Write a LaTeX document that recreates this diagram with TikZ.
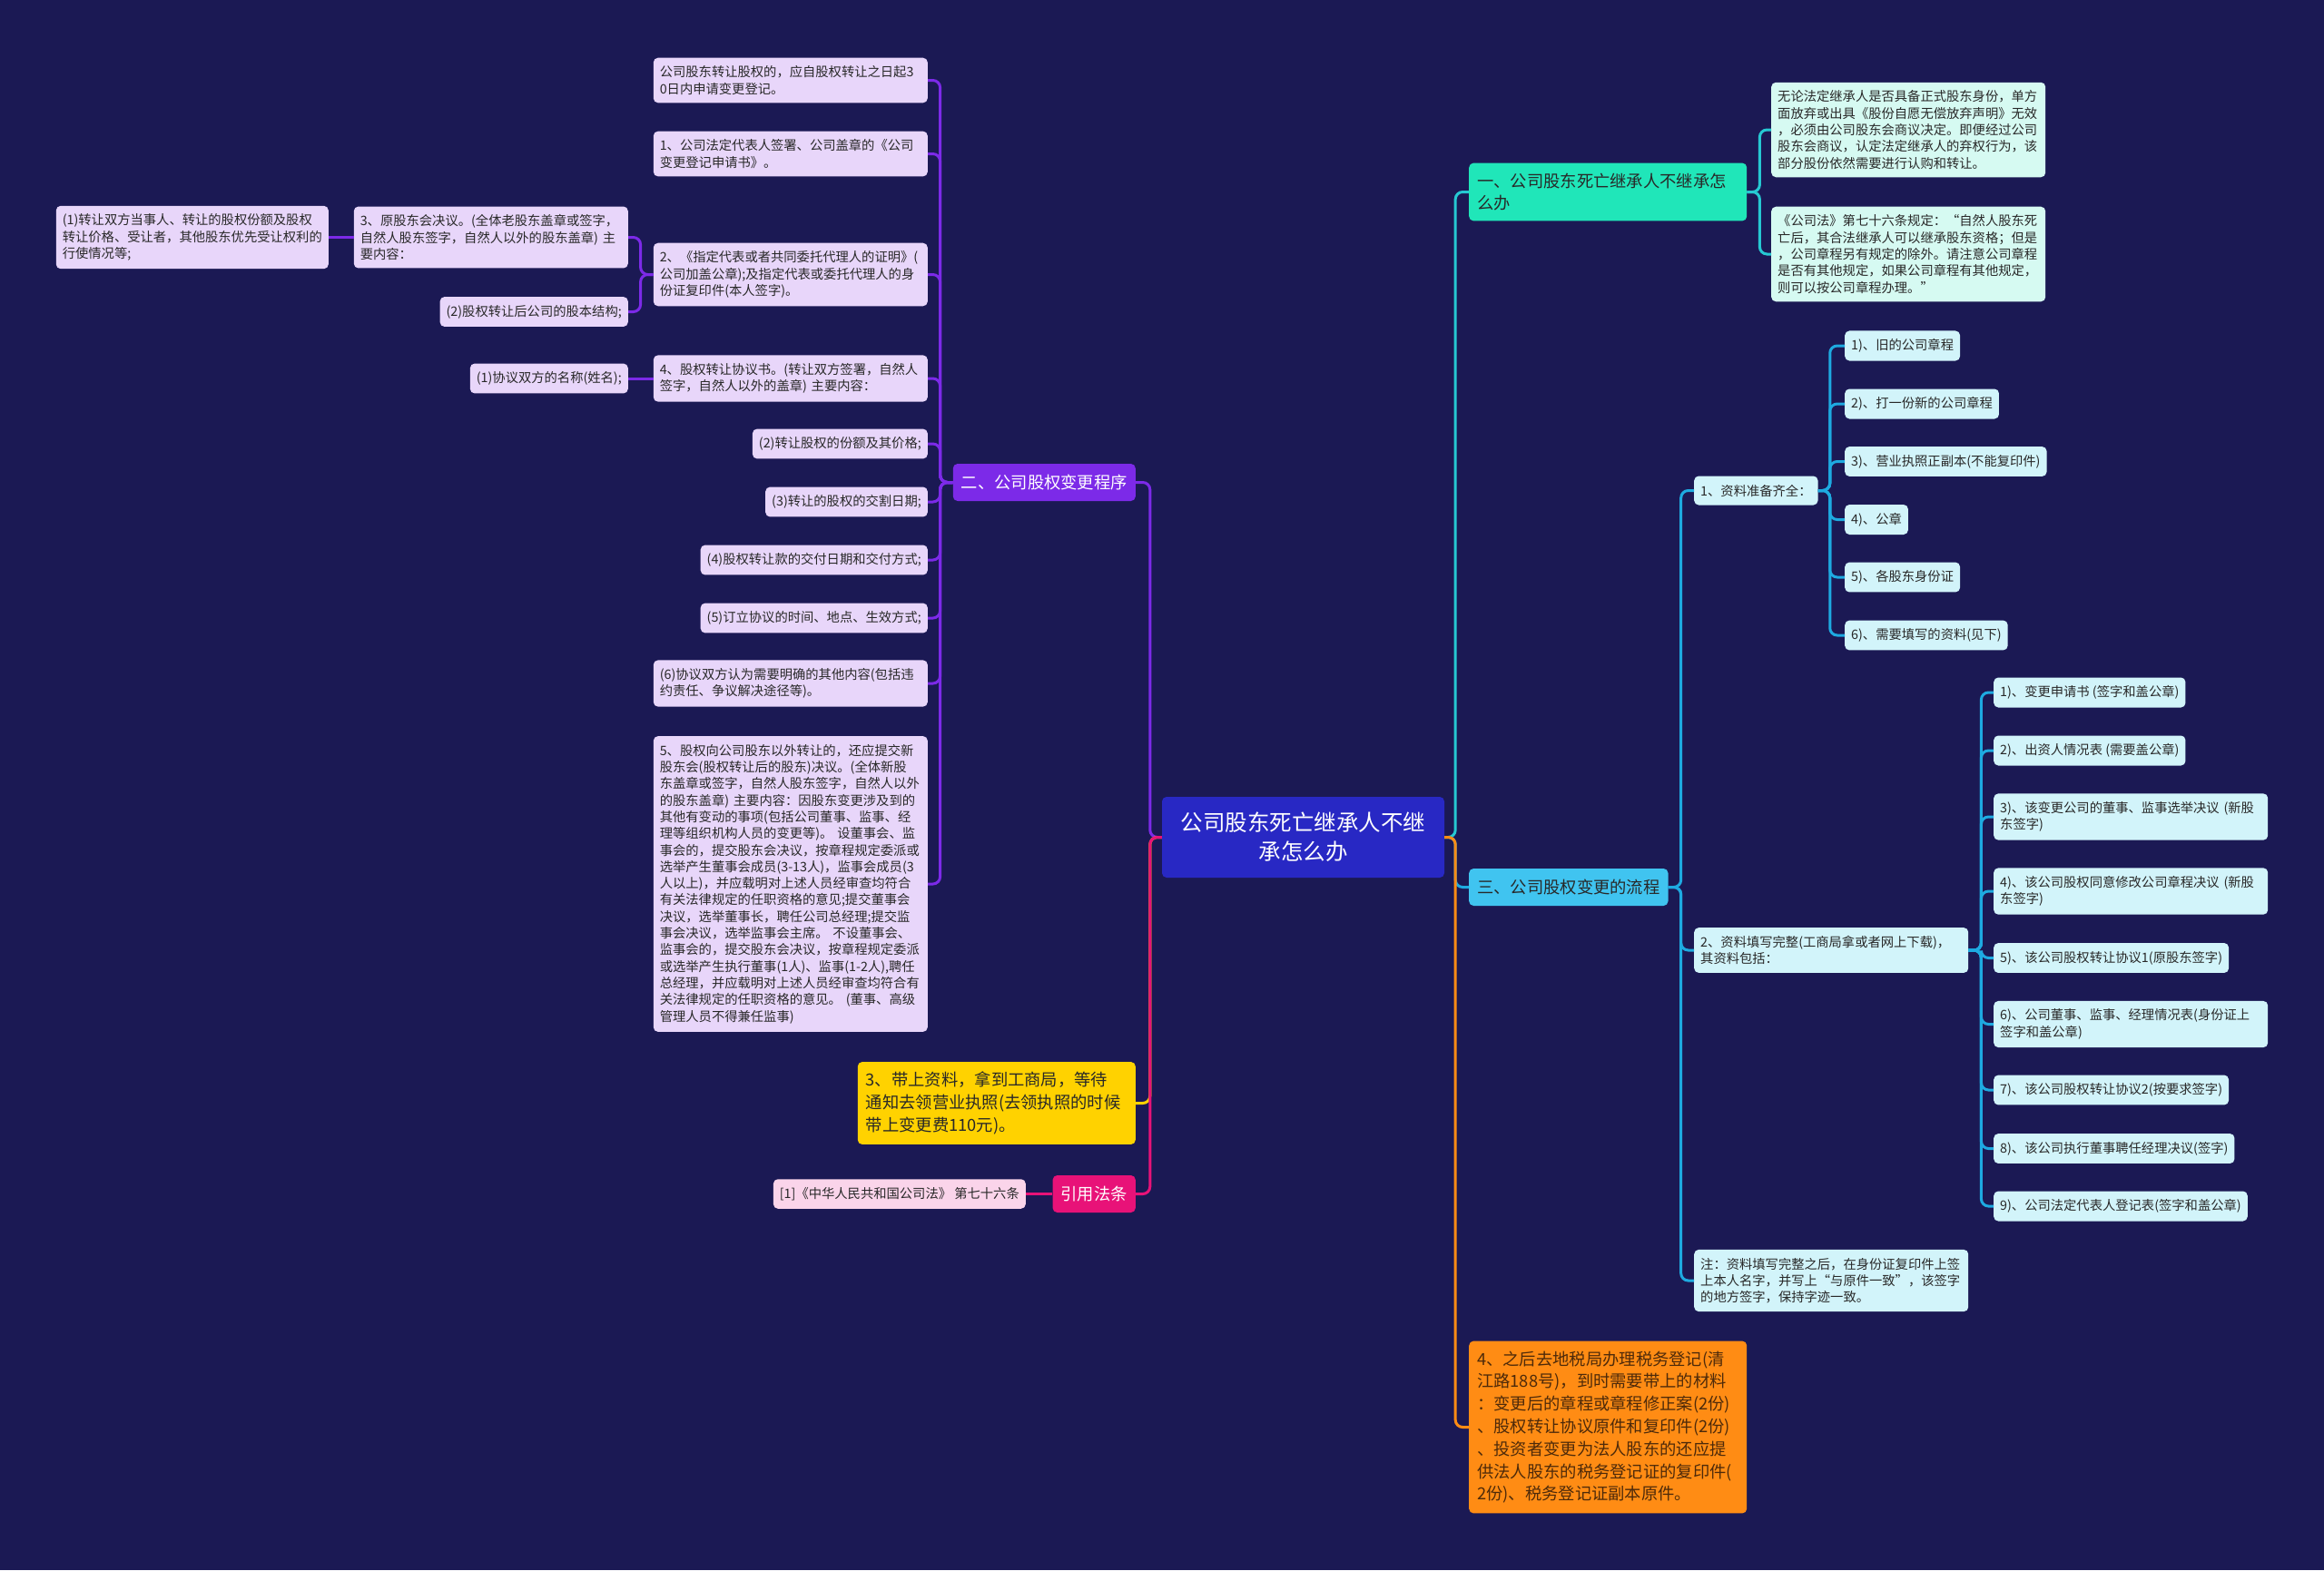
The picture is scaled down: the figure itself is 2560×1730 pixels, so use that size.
\documentclass[tikz,border=0pt]{standalone}
\usepackage{fontspec}
\setmainfont{Noto Sans CJK SC}

\definecolor{bgnavy}{RGB}{27,25,84}
\definecolor{rootblue}{RGB}{40,40,196}
\definecolor{procpurple}{RGB}{124,42,232}
\definecolor{lavender}{RGB}{232,214,250}
\definecolor{gold}{RGB}{255,210,0}
\definecolor{hotpink}{RGB}{232,18,120}
\definecolor{palepink}{RGB}{250,212,234}
\definecolor{teal}{RGB}{32,230,185}
\definecolor{paleteal}{RGB}{214,250,242}
\definecolor{tealline}{RGB}{38,200,210}
\definecolor{sky}{RGB}{64,196,240}
\definecolor{palesky}{RGB}{210,244,250}
\definecolor{skyline}{RGB}{30,170,225}
\definecolor{tangerine}{RGB}{255,140,20}
\definecolor{inkdark}{RGB}{40,40,40}
\definecolor{inkbrown}{RGB}{77,42,10}

\tikzset{
  smallbox/.style={rounded corners=5pt, inner xsep=7pt, inner ysep=9pt, align=left,
    font=\fontsize{14.3pt}{18.3pt}\selectfont, text=inkdark, minimum height=32pt},
  leafP/.style={smallbox, fill=lavender},
  leafK/.style={smallbox, fill=palepink},
  leafT/.style={smallbox, fill=paleteal},
  leafB/.style={smallbox, fill=palesky},
  bigbox/.style={rounded corners=5pt, inner xsep=9pt, inner ysep=11pt, align=left,
    font=\fontsize{18.3pt}{24.8pt}\selectfont, minimum height=41pt},
  wire/.style={line width=3pt, rounded corners=8pt},
}

\begin{document}
\begin{tikzpicture}[x=1pt,y=-1pt]

\fill[bgnavy] (0,0) rectangle (2560,1730);
\useasboundingbox (0,0) rectangle (2560,1730);

% centre
\node[rounded corners=5pt, fill=rootblue, text=white, align=center, text width=295pt,
  minimum width=311pt, minimum height=89pt, inner xsep=8pt,
  font=\fontsize{24.5pt}{32pt}\selectfont] (root) at (1435.5,922.5)
  {公司股东死亡继承人不继\\承怎么办};

% left side
\node[bigbox, fill=procpurple, text=white, anchor=east] (proc) at (1251,531.5) {二、公司股权变更程序};
\node[bigbox, fill=gold, text=inkdark, anchor=east, text width=288pt] (office) at (1251,1215.5)
  {3、带上资料，拿到工商局，等待\\通知去领营业执照(去领执照的时候\\带上变更费110元)。};
\node[bigbox, fill=hotpink, text=white, anchor=east] (law) at (1251,1315.5) {引用法条};
\node[leafK, anchor=east] (lawA) at (1130,1315.5) {[1]《中华人民共和国公司法》 第七十六条};

\node[leafP, anchor=east, text width=288pt] (p1) at (1022,88.5) {公司股东转让股权的，应自股权转让之日起3\\0日内申请变更登记。};
\node[leafP, anchor=east, text width=288pt] (p2) at (1022,169.5) {1、公司法定代表人签署、公司盖章的《公司\\变更登记申请书》。};
\node[leafP, anchor=east, text width=288pt] (p3) at (1022,302.5) {2、《指定代表或者共同委托代理人的证明》(\\公司加盖公章);及指定代表或委托代理人的身\\份证复印件(本人签字)。};
\node[leafP, anchor=east, text width=288pt] (p4) at (1022,417) {4、股权转让协议书。(转让双方签署，自然人\\签字，自然人以外的盖章) 主要内容：};
\node[leafP, anchor=east] (p5) at (1022,489) {(2)转让股权的份额及其价格;};
\node[leafP, anchor=east] (p6) at (1022,553) {(3)转让的股权的交割日期;};
\node[leafP, anchor=east] (p7) at (1022,617) {(4)股权转让款的交付日期和交付方式;};
\node[leafP, anchor=east] (p8) at (1022,681) {(5)订立协议的时间、地点、生效方式;};
\node[leafP, anchor=east, text width=288pt] (p9) at (1022,753) {(6)协议双方认为需要明确的其他内容(包括违\\约责任、争议解决途径等)。};
\node[leafP, anchor=east, text width=288pt] (p10) at (1022,974) {5、股权向公司股东以外转让的，还应提交新\\股东会(股权转让后的股东)决议。(全体新股\\东盖章或签字，自然人股东签字，自然人以外\\的股东盖章) 主要内容：因股东变更涉及到的\\其他有变动的事项(包括公司董事、监事、经\\理等组织机构人员的变更等)。 设董事会、监\\事会的，提交股东会决议，按章程规定委派或\\选举产生董事会成员(3-13人)，监事会成员(3\\人以上)，并应载明对上述人员经审查均符合\\有关法律规定的任职资格的意见;提交董事会\\决议，选举董事长，聘任公司总经理;提交监\\事会决议，选举监事会主席。 不设董事会、\\监事会的，提交股东会决议，按章程规定委派\\或选举产生执行董事(1人)、监事(1-2人),聘任\\总经理，并应载明对上述人员经审查均符合有\\关法律规定的任职资格的意见。 (董事、高级\\管理人员不得兼任监事)};

\node[leafP, anchor=east, text width=288pt] (q1) at (692,261.5) {3、原股东会决议。(全体老股东盖章或签字，\\自然人股东签字，自然人以外的股东盖章) 主\\要内容：};
\node[leafP, anchor=east] (q2) at (692,343.5) {(2)股权转让后公司的股本结构;};
\node[leafP, anchor=east, text width=286pt] (q0) at (362,261.5) {(1)转让双方当事人、转让的股权份额及股权\\转让价格、受让者，其他股东优先受让权利的\\行使情况等;};
\node[leafP, anchor=east] (r1) at (692,417) {(1)协议双方的名称(姓名);};

% right side
\node[bigbox, fill=teal, text=inkdark, anchor=west, text width=288pt] (one) at (1618,211.5) {一、公司股东死亡继承人不继承怎\\么办};
\node[leafT, anchor=west, text width=288pt] (t1) at (1951,143) {无论法定继承人是否具备正式股东身份，单方\\面放弃或出具《股份自愿无偿放弃声明》无效\\，必须由公司股东会商议决定。即便经过公司\\股东会商议，认定法定继承人的弃权行为，该\\部分股份依然需要进行认购和转让。};
\node[leafT, anchor=west, text width=288pt] (t2) at (1951,280) {《公司法》第七十六条规定：“自然人股东死\\亡后，其合法继承人可以继承股东资格；但是\\，公司章程另有规定的除外。请注意公司章程\\是否有其他规定，如果公司章程有其他规定，\\则可以按公司章程办理。”};

\node[bigbox, fill=sky, text=inkdark, anchor=west] (three) at (1618,977.5) {三、公司股权变更的流程};
\node[bigbox, fill=tangerine, text=inkbrown, anchor=west, text width=288pt] (tax) at (1618,1572.5) {4、之后去地税局办理税务登记(清\\江路188号)，到时需要带上的材料\\：变更后的章程或章程修正案(2份)\\、股权转让协议原件和复印件(2份)\\、投资者变更为法人股东的还应提\\供法人股东的税务登记证的复印件(\\2份)、税务登记证副本原件。};

\node[leafB, anchor=west] (s1) at (1866,540.5) {1、资料准备齐全：};
\node[leafB, anchor=west, text width=288pt] (s2) at (1866,1047) {2、资料填写完整(工商局拿或者网上下载)，\\其资料包括：};
\node[leafB, anchor=west, text width=288pt] (s3) at (1866,1411) {注：资料填写完整之后，在身份证复印件上签\\上本人名字，并写上“与原件一致”，该签字\\的地方签字，保持字迹一致。};

\node[leafB, anchor=west] (a1) at (2032,381) {1)、旧的公司章程};
\node[leafB, anchor=west] (a2) at (2032,445) {2)、打一份新的公司章程};
\node[leafB, anchor=west] (a3) at (2032,508.5) {3)、营业执照正副本(不能复印件)};
\node[leafB, anchor=west] (a4) at (2032,572.5) {4)、公章};
\node[leafB, anchor=west] (a5) at (2032,636) {5)、各股东身份证};
\node[leafB, anchor=west] (a6) at (2032,700) {6)、需要填写的资料(见下)};

\node[leafB, anchor=west] (b1) at (2196,763) {1)、变更申请书 (签字和盖公章)};
\node[leafB, anchor=west] (b2) at (2196,827) {2)、出资人情况表 (需要盖公章)};
\node[leafB, anchor=west, text width=288pt] (b3) at (2196,900) {3)、该变更公司的董事、监事选举决议 (新股\\东签字)};
\node[leafB, anchor=west, text width=288pt] (b4) at (2196,982) {4)、该公司股权同意修改公司章程决议 (新股\\东签字)};
\node[leafB, anchor=west] (b5) at (2196,1055.5) {5)、该公司股权转让协议1(原股东签字)};
\node[leafB, anchor=west, text width=288pt] (b6) at (2196,1128.5) {6)、公司董事、监事、经理情况表(身份证上\\签字和盖公章)};
\node[leafB, anchor=west] (b7) at (2196,1201) {7)、该公司股权转让协议2(按要求签字)};
\node[leafB, anchor=west] (b8) at (2196,1265.5) {8)、该公司执行董事聘任经理决议(签字)};
\node[leafB, anchor=west] (b9) at (2196,1329) {9)、公司法定代表人登记表(签字和盖公章)};

% connectors
\draw[wire, procpurple] (root.west) -- ++(-13,0) |- (proc.east);
\draw[wire, gold] (root.west) -- ++(-13,0) |- (office.east);
\draw[wire, hotpink] (root.west) -- ++(-13,0) |- (law.east);
\draw[wire, hotpink] (law.west) -- (lawA.east);
\foreach \i in {1,...,10}
  \draw[wire, procpurple] (proc.west) -- ++(-14,0) |- (p\i.east);
\foreach \n in {q1,q2}
  \draw[wire, procpurple] (p3.west) -- ++(-14,0) |- (\n.east);
\draw[wire, procpurple] (q1.west) -- (q0.east);
\draw[wire, procpurple] (p4.west) -- (r1.east);

\draw[wire, tealline] (root.east) -- ++(12,0) |- (one.west);
\draw[wire, skyline] (root.east) -- ++(12,0) |- (three.west);
\draw[wire, tangerine] (root.east) -- ++(12,0) |- (tax.west);
\foreach \n in {t1,t2}
  \draw[wire, tealline] (one.east) -- ++(14,0) |- (\n.west);
\foreach \n in {s1,s2,s3}
  \draw[wire, skyline] (three.east) -- ++(14,0) |- (\n.west);
\foreach \i in {1,...,6}
  \draw[wire, skyline] (s1.east) -- ++(13,0) |- (a\i.west);
\foreach \i in {1,...,9}
  \draw[wire, skyline] (s2.east) -- ++(14,0) |- (b\i.west);

\end{tikzpicture}
\end{document}
